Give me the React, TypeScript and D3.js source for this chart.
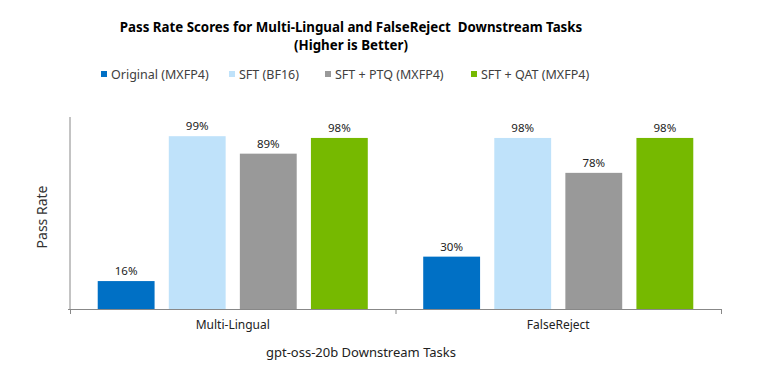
import React from "react";
import * as d3 from "d3";

const categories = ["Multi-Lingual", "FalseReject"];
const seriesNames = ["Original (MXFP4)", "SFT (BF16)", "SFT + PTQ (MXFP4)", "SFT + QAT (MXFP4)"];
const seriesColors = ["#0070C5", "#BFE2FA", "#999999", "#76B900"];
const originalValues = [0.16, 0.30];
const sftValues = [0.99, 0.98];
const ptqValues = [0.89, 0.78];
const qatValues = [0.98, 0.98];
const seriesValues = [originalValues, sftValues, ptqValues, qatValues];

const FONT = "'Noto Sans', sans-serif";

export default function App() {
  const W = 775, H = 387;
  const left = 70, right = 721, top = 117, bottom = 309;
  const x0 = d3.scaleBand<string>().domain(categories).range([left, right]).paddingInner(0).paddingOuter(0);
  const x1 = d3.scaleBand<string>().domain(seriesNames).range([0, x0.bandwidth()]).paddingInner(0.2).paddingOuter(0.39);
  const y = d3.scaleLinear().domain([0, 1.1]).range([bottom, top]);
  const fmt = d3.format(".0%");
  const legendX = [101, 229, 325, 471];

  return (
    <div style={{ position: "absolute", left: 0, top: 0 }}>
      <svg width={W} height={H} style={{ display: "block", background: "#fff" }} fontFamily={FONT}>
        <text x={351} y={32} textAnchor="middle" fontSize={13.3} fontWeight="bold" fill="#000" style={{ whiteSpace: "pre" }}>
          {"Pass Rate Scores for Multi-Lingual and FalseReject  Downstream Tasks"}
        </text>
        <text x={351} y={50} textAnchor="middle" fontSize={13.3} fontWeight="bold" fill="#000">
          (Higher is Better)
        </text>
        {seriesNames.map((s, i) => (
          <g key={s}>
            <rect x={legendX[i]} y={71} width={6} height={6} fill={seriesColors[i]} />
            <text x={legendX[i] + 10} y={79} fontSize={12.5} fill="#404040">{s}</text>
          </g>
        ))}
        {categories.map((c, ci) => (
          <g key={c} transform={`translate(${x0(c)},0)`}>
            {seriesNames.map((s, si) => {
              const v = seriesValues[si][ci];
              const bx = x1(s)!;
              return (
                <g key={s}>
                  <rect x={bx} y={y(v)} width={x1.bandwidth()} height={bottom - y(v)} fill={seriesColors[si]} />
                  <text x={bx + x1.bandwidth() / 2} y={y(v) - 6} textAnchor="middle" fontSize={11.5} fill="#222">
                    {fmt(v)}
                  </text>
                </g>
              );
            })}
            <text x={x0.bandwidth() / 2} y={329} textAnchor="middle" fontSize={12} fill="#222">{c}</text>
          </g>
        ))}
        <line x1={left} x2={left} y1={top} y2={bottom} stroke="#888" strokeWidth={1} />
        <line x1={left - 2} x2={right} y1={bottom + 0.5} y2={bottom + 0.5} stroke="#888" strokeWidth={1} />
        {[left, left + x0.bandwidth(), right].map((tx, i) => (
          <line key={i} x1={tx + 0.5} x2={tx + 0.5} y1={bottom} y2={bottom + 5} stroke="#888" strokeWidth={1} />
        ))}
        <text x={361} y={357} textAnchor="middle" fontSize={13} fill="#222">gpt-oss-20b Downstream Tasks</text>
        <text transform={`translate(47,${(top + bottom) / 2 + 4}) rotate(-90)`} textAnchor="middle" fontSize={14} fill="#333">
          Pass Rate
        </text>
      </svg>
    </div>
  );
}
